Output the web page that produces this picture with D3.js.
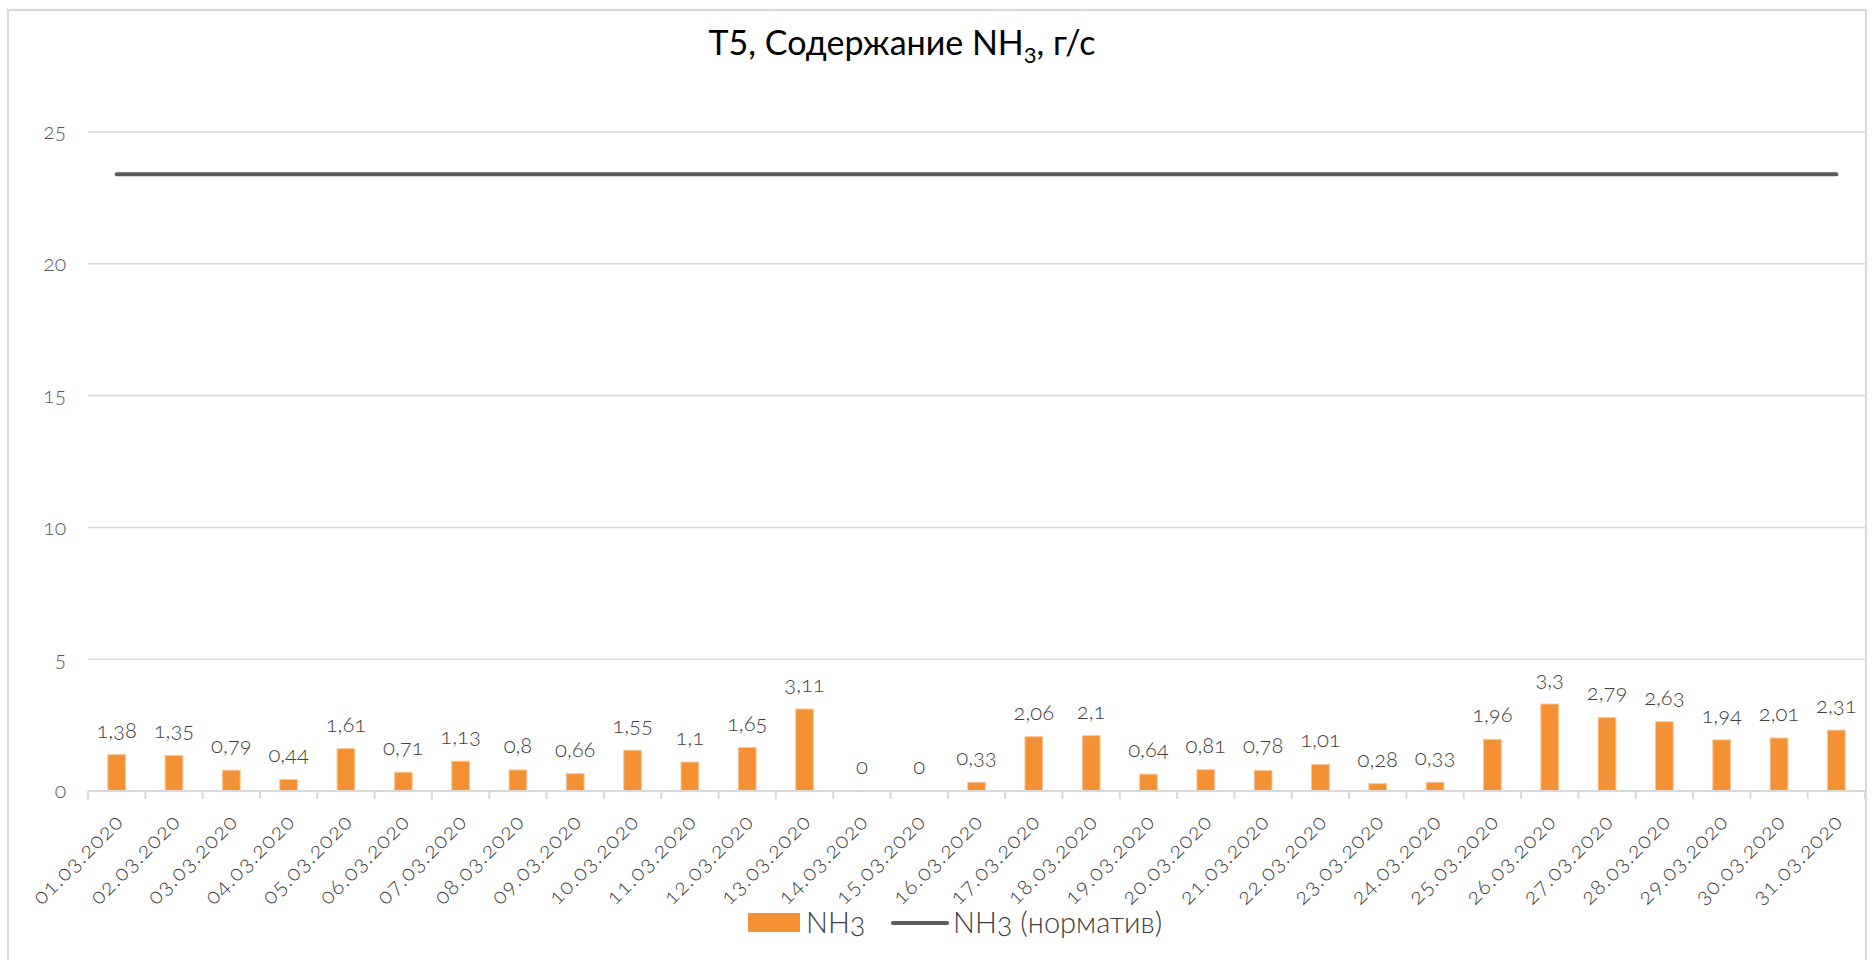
<!DOCTYPE html>
<html>
<head>
<meta charset="utf-8">
<script src="https://cdn.jsdelivr.net/npm/d3@7"></script>
<style>
  body { margin: 0; background: #fff; }
  svg { display: block; font-family: Lato, "Open Sans", sans-serif; }
  .num { font-variant-numeric: oldstyle-nums; font-feature-settings: "onum"; font-weight: 300; }
</style>
</head>
<body>
<svg id="chart"></svg>
<script>
const days = ['01.03.2020', '02.03.2020', '03.03.2020', '04.03.2020', '05.03.2020', '06.03.2020',
  '07.03.2020', '08.03.2020', '09.03.2020', '10.03.2020', '11.03.2020', '12.03.2020', '13.03.2020',
  '14.03.2020', '15.03.2020', '16.03.2020', '17.03.2020', '18.03.2020', '19.03.2020', '20.03.2020',
  '21.03.2020', '22.03.2020', '23.03.2020', '24.03.2020', '25.03.2020', '26.03.2020', '27.03.2020',
  '28.03.2020', '29.03.2020', '30.03.2020', '31.03.2020'];
const nh3 = [1.38, 1.35, 0.79, 0.44, 1.61, 0.71, 1.13, 0.8, 0.66, 1.55, 1.1, 1.65, 3.11, 0, 0, 0.33,
  2.06, 2.1, 0.64, 0.81, 0.78, 1.01, 0.28, 0.33, 1.96, 3.3, 2.79, 2.63, 1.94, 2.01, 2.31];
const norm = days.map(() => 23.4);
const yTicks = [0, 5, 10, 15, 20, 25];

const W = 1874, H = 960;
const BAR = '#f39134', LINE = '#595959', GRID = '#d9d9d9';

const svg = d3.select('#chart').attr('width', W).attr('height', H);

svg.append('rect')
  .attr('x', 8).attr('y', 10)
  .attr('width', 1858).attr('height', 960)
  .attr('fill', '#fff')
  .attr('stroke', GRID)
  .attr('stroke-width', 2);

const x = d3.scaleBand().domain(days).range([88, 1865]);
const y = d3.scaleLinear().domain([0, 25]).range([791, 132]);

// gridlines
svg.append('g')
  .selectAll('line')
  .data(yTicks.slice(1))
  .join('line')
    .attr('x1', 88).attr('x2', 1865)
    .attr('y1', d => y(d)).attr('y2', d => y(d))
    .attr('stroke', GRID)
    .attr('stroke-width', 1.5);

// y labels
svg.append('g')
  .attr('font-size', 21)
  .attr('fill', '#595959')
  .attr('text-anchor', 'end')
  .selectAll('text')
  .data(yTicks)
  .join('text')
    .attr('class', 'num')
    .attr('x', 66)
    .attr('y', d => y(d))
    .attr('dy', '0.35em')
    .text(d => d);

// bars
const bw = x.bandwidth() * 0.31;
svg.append('g')
  .selectAll('rect')
  .data(nh3)
  .join('rect')
    .attr('x', (d, i) => x(days[i]) + (x.bandwidth() - bw) / 2)
    .attr('y', d => y(d))
    .attr('width', bw)
    .attr('height', d => y(0) - y(d))
    .attr('fill', BAR)
    .attr('stroke', '#fbc89a')
    .attr('stroke-width', 1);

// x axis
const xAxis = svg.append('g');
xAxis.append('line')
  .attr('x1', 88).attr('x2', 1865)
  .attr('y1', y(0)).attr('y2', y(0))
  .attr('stroke', GRID).attr('stroke-width', 2);
xAxis.selectAll('.tick')
  .data(days.concat(null))
  .join('line')
    .attr('x1', (d, i) => 88 + i * x.step())
    .attr('x2', (d, i) => 88 + i * x.step())
    .attr('y1', y(0)).attr('y2', y(0) + 8)
    .attr('stroke', GRID).attr('stroke-width', 2);
xAxis.selectAll('text')
  .data(days)
  .join('text')
    .attr('class', 'num')
    .attr('font-size', 22)
    .attr('letter-spacing', 1.2)
    .attr('fill', '#404040')
    .attr('text-anchor', 'end')
    .attr('transform', d => `translate(${x(d) + x.bandwidth() / 2 + 8},${y(0) + 32}) rotate(-45)`)
    .text(d => d);

// norm line
svg.append('path')
  .datum(norm)
  .attr('fill', 'none')
  .attr('stroke', LINE)
  .attr('stroke-width', 4)
  .attr('stroke-linecap', 'round')
  .attr('d', d3.line()
    .x((d, i) => x(days[i]) + x.bandwidth() / 2)
    .y(d => y(d)));

// data labels
const fmt = v => String(v).replace('.', ',');
svg.append('g')
  .attr('font-size', 22)
  .attr('fill', '#404040')
  .attr('text-anchor', 'middle')
  .selectAll('text')
  .data(nh3)
  .join('text')
    .attr('class', 'num')
    .attr('x', (d, i) => x(days[i]) + x.bandwidth() / 2)
    .attr('y', d => y(d) - 17)
    .text(fmt);

// title
const title = svg.append('text')
  .attr('x', 902).attr('y', 55)
  .attr('text-anchor', 'middle')
  .attr('font-size', 34)
  .attr('fill', '#000');
title.append('tspan').text('T5, Содержание NH');
title.append('tspan').attr('font-size', 22).attr('dy', 8).text('3');
title.append('tspan').attr('dy', -8).text(', г/с');

// legend
const legend = svg.append('g').attr('font-size', 29).attr('fill', '#404040');
legend.append('rect')
  .attr('x', 748).attr('y', 913).attr('width', 52).attr('height', 19)
  .attr('fill', BAR);
legend.append('text').attr('class', 'num').attr('x', 806).attr('y', 933).text('NH3');
legend.append('line')
  .attr('x1', 893).attr('x2', 947).attr('y1', 923).attr('y2', 923)
  .attr('stroke', LINE).attr('stroke-width', 4).attr('stroke-linecap', 'round');
legend.append('text').attr('class', 'num').attr('x', 953).attr('y', 933).text('NH3 (норматив)');
</script>
</body>
</html>
